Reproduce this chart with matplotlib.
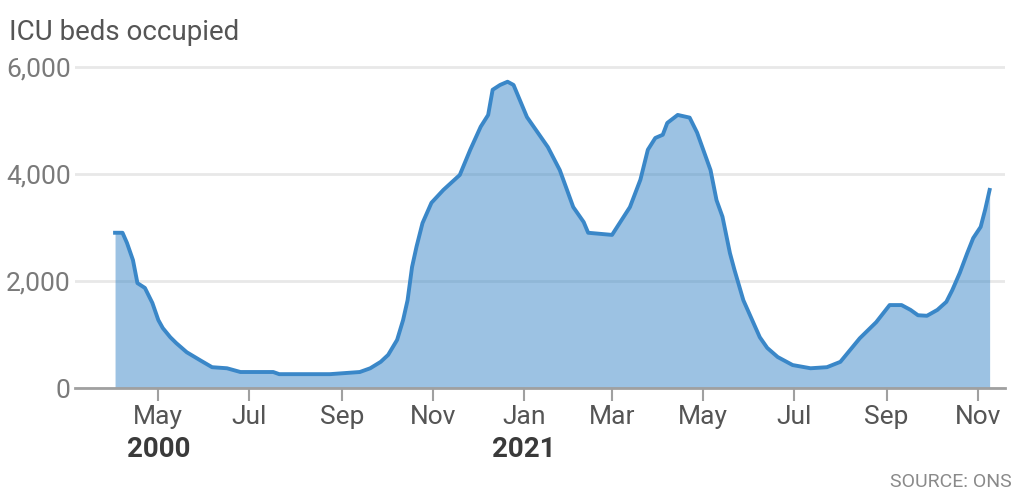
import matplotlib
matplotlib.use('Agg')
import matplotlib.pyplot as plt
import matplotlib.transforms as mtransforms
import pandas as pd

# ICU beds occupied
dates = ['2020-04-02', '2020-04-07', '2020-04-10', '2020-04-14', '2020-04-17', '2020-04-22',
         '2020-04-27', '2020-05-01', '2020-05-04', '2020-05-09', '2020-05-13', '2020-05-20',
         '2020-05-29', '2020-06-06', '2020-06-16', '2020-06-25',
         '2020-07-17', '2020-07-21', '2020-08-04', '2020-08-24', '2020-09-03', '2020-09-13',
         '2020-09-20', '2020-09-27', '2020-10-02', '2020-10-08', '2020-10-12', '2020-10-15',
         '2020-10-18', '2020-10-21', '2020-10-25', '2020-10-31', '2020-11-08',
         '2020-11-19', '2020-11-26', '2020-12-03', '2020-12-08', '2020-12-11',
         '2020-12-16', '2020-12-21', '2020-12-25', '2021-01-03', '2021-01-17', '2021-01-25',
         '2021-02-03', '2021-02-10', '2021-02-13', '2021-03-01', '2021-03-04', '2021-03-13',
         '2021-03-20', '2021-03-25', '2021-03-30', '2021-04-04', '2021-04-07', '2021-04-14',
         '2021-04-22', '2021-04-27', '2021-05-06', '2021-05-10', '2021-05-14', '2021-05-19',
         '2021-05-22', '2021-05-28', '2021-06-08', '2021-06-13', '2021-06-20', '2021-06-30',
         '2021-07-12', '2021-07-23', '2021-08-01',
         '2021-08-14', '2021-08-25', '2021-09-03', '2021-09-11', '2021-09-17', '2021-09-22',
         '2021-09-28', '2021-10-05', '2021-10-11', '2021-10-15', '2021-10-20',
         '2021-10-25', '2021-10-29', '2021-11-03', '2021-11-06', '2021-11-09']
beds = [2900, 2900, 2710, 2390, 1960, 1870,
        1590, 1270, 1120, 950, 840, 670,
        520, 390, 370, 300,
        300, 260, 260, 260, 280, 300,
        370, 490, 620, 900, 1270, 1640,
        2260, 2640, 3080, 3460, 3700,
        3980, 4450, 4880, 5100, 5570,
        5660, 5720, 5660, 5060, 4500, 4070,
        3380, 3100, 2900, 2860, 2990, 3380,
        3890, 4450, 4670, 4730, 4950, 5100,
        5050, 4770, 4070, 3510, 3200, 2520,
        2210, 1640, 950, 750, 580, 430,
        370, 390, 490,
        930, 1230, 1550, 1550, 1460, 1360,
        1350, 1460, 1610, 1830, 2150,
        2520, 2800, 3010, 3330, 3700]

tick_dates = ['2020-05-01', '2020-07-01', '2020-09-01', '2020-11-01', '2021-01-01',
              '2021-03-01', '2021-05-01', '2021-07-01', '2021-09-01', '2021-11-01']
tick_labels = ['May', 'Jul', 'Sep', 'Nov', 'Jan', 'Mar', 'May', 'Jul', 'Sep', 'Nov']
year_dates = ['2020-05-01', '2021-01-01']
year_labels = ['2000', '2021']
yticks = [0, 2000, 4000, 6000]

x = pd.to_datetime(dates)
blue = '#3a87c8'
font = ['Roboto', 'DejaVu Sans']

fig = plt.figure(figsize=(10.24, 4.95), dpi=100)
ax = fig.add_axes([0.073, 0.216, 0.908, 0.66])

ax.fill_between(x, beds, 0, color=blue, alpha=0.5, linewidth=0, zorder=2)
ax.plot(x, beds, color=blue, linewidth=2.8, solid_joinstyle='round', zorder=3)

ax.set_xlim(pd.Timestamp('2020-03-06'), pd.Timestamp('2021-11-19'))
ax.set_ylim(0, 6100)

ax.set_yticks(yticks)
ax.set_yticklabels([f'{v:,}' for v in yticks], family=font, fontsize=19, color='#7a7a7a')
ax.yaxis.grid(True, color='#e8e8e8', linewidth=2, zorder=1)
ax.set_axisbelow(True)
ax.tick_params(axis='y', length=0, pad=3)

ax.set_xticks(pd.to_datetime(tick_dates))
ax.set_xticklabels(tick_labels, family=font, fontsize=19, color='#555555')
ax.tick_params(axis='x', length=9, width=1.5, color='#a0a0a0', pad=3)

trans = mtransforms.blended_transform_factory(ax.transData, ax.transAxes)
for d, lab in zip(pd.to_datetime(year_dates), year_labels):
    ax.text(d, -0.148, lab, transform=trans, ha='center', va='top',
            family=font, fontsize=20, color='#3a3a3a', fontweight='bold')

for s in ['top', 'right', 'left']:
    ax.spines[s].set_visible(False)
ax.spines['bottom'].set_color('#a0a0a0')
ax.spines['bottom'].set_linewidth(2)
ax.spines['bottom'].set_zorder(4)

fig.text(0.009, 0.919, 'ICU beds occupied', family=font, fontsize=20,
         color='#555555', va='baseline', ha='left')
fig.text(0.988, 0.016, 'SOURCE: ONS', family=font, fontsize=14,
         color='#8a8a8a', va='baseline', ha='right')

fig.savefig('out.png', dpi=100)
